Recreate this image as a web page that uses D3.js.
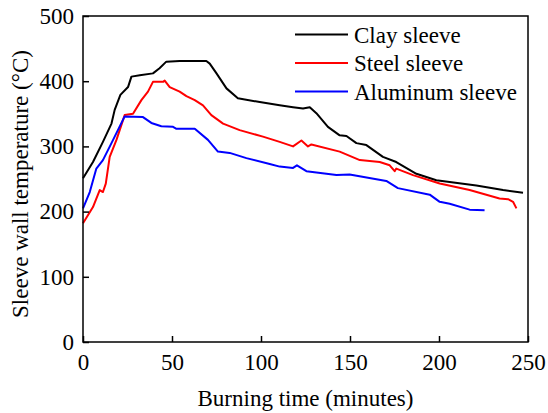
<!DOCTYPE html>
<html>
<head>
<meta charset="utf-8">
<script src="https://cdn.jsdelivr.net/npm/d3@7"></script>
<style>
  body { margin: 0; background: #fff; }
  text { font-family: "Liberation Serif", "Times New Roman", serif; }
</style>
</head>
<body>
<script>
(function(d3) {

  var width = 548, height = 413;
  var margin = {top: 16, right: 20, bottom: 71, left: 83};
  var fontSize = '23px';

  // Data (minutes, degC)
  var clayTime = [0, 5.6, 11.2, 16, 17.8, 21, 25.3, 27.2, 31.9, 39.3, 43, 46.8, 54.3, 69.3, 71.2, 75, 80.6, 87, 99.3, 110.5, 118, 123.6, 127.4, 131.1, 137.6, 144.2, 148, 153.6, 159.2, 168.5, 176, 187.3, 198.5, 221, 236, 247.2];
  var clayTemp = [251, 276, 307, 335, 356, 379, 391, 407, 409, 412, 420, 430, 431, 431, 427, 412, 389, 374, 368, 363, 360, 358, 360, 351, 330, 317, 316, 305, 302, 284, 276, 258, 248, 240, 233, 229];

  var steelTime = [0, 5.6, 9.4, 11.2, 12.8, 15, 18.8, 23.4, 28.1, 32.8, 36.5, 39.3, 45, 45.9, 48.7, 54.3, 58.1, 62.8, 67.4, 72.1, 78.7, 88, 101.1, 110.5, 118, 122.7, 126.4, 128.3, 144.2, 155.5, 166.7, 172.3, 175.1, 176, 185.4, 200.4, 217.2, 234, 238.8, 241.6, 243.5];
  var steelTemp = [182, 207, 233, 230, 243, 284, 310, 348, 350, 371, 384, 399, 399, 401, 391, 384, 377, 371, 363, 348, 335, 325, 315, 307, 300, 309, 300, 303, 292, 279, 276, 271, 262, 266, 256, 243, 233, 220, 219, 215, 205];

  var aluTime = [0, 3.8, 7.5, 11.2, 16, 17.8, 23.4, 33.7, 38.4, 44, 50.6, 52.5, 62.8, 70.2, 75.8, 82.4, 91.8, 104.9, 110.5, 118, 120.2, 125.5, 142.4, 149.8, 170.4, 176.9, 194.8, 200.4, 206, 217.2, 225.6];
  var aluTemp = [205, 230, 266, 279, 305, 315, 346, 345, 336, 331, 330, 327, 327, 310, 292, 290, 282, 273, 269, 267, 271, 262, 256, 257, 247, 236, 226, 215, 212, 203, 202];

  var seriesNames = ['Clay sleeve', 'Steel sleeve', 'Aluminum sleeve'];
  var colors = ['#000000', '#ff0000', '#0000ff'];

  var xTicks = [0, 50, 100, 150, 200, 250];
  var yTicks = [0, 100, 200, 300, 400, 500];

  var series = [
    d3.zip(clayTime, clayTemp),
    d3.zip(steelTime, steelTemp),
    d3.zip(aluTime, aluTemp)
  ];

  var svg = d3.select('body').append('svg')
    .attr('width', width)
    .attr('height', height);

  var x = d3.scaleLinear().domain([0, 250]).range([margin.left, width - margin.right]);
  var y = d3.scaleLinear().domain([0, 500]).range([height - margin.bottom, margin.top]);

  var line = d3.line()
    .x(function(d) { return x(d[0]); })
    .y(function(d) { return y(d[1]); });

  svg.selectAll('path.series')
    .data(series)
    .enter().append('path')
    .attr('class', 'series')
    .attr('d', line)
    .attr('fill', 'none')
    .attr('stroke', function(d, i) { return colors[i]; })
    .attr('stroke-width', 2)
    .attr('stroke-linejoin', 'round');

  // Frame
  svg.append('rect')
    .attr('x', x(0)).attr('y', y(500))
    .attr('width', x(250) - x(0)).attr('height', y(0) - y(500))
    .attr('fill', 'none').attr('stroke', '#000').attr('stroke-width', 1.5);

  // Axes: major ticks inward, minor ticks inward and shorter
  var xAxis = svg.append('g').attr('transform', 'translate(0,' + y(0) + ')');
  xAxis.call(d3.axisBottom(x).tickValues(d3.range(25, 250, 50)).tickSize(-3).tickFormat(''));
  xAxis.call(d3.axisBottom(x).tickValues(xTicks).tickSize(-6).tickPadding(12).tickFormat(d3.format('d')));

  var yAxis = svg.append('g').attr('transform', 'translate(' + x(0) + ',0)');
  yAxis.call(d3.axisLeft(y).tickValues(d3.range(50, 500, 100)).tickSize(-3).tickFormat(''));
  yAxis.call(d3.axisLeft(y).tickValues(yTicks).tickSize(-6).tickPadding(9).tickFormat(d3.format('d')));

  svg.selectAll('.domain').remove();
  svg.selectAll('.tick line').attr('stroke', '#000').attr('stroke-width', 1.5);
  svg.selectAll('.tick text')
    .attr('fill', '#000')
    .style('font-size', fontSize)
    .style('font-family', '"Liberation Serif", serif');

  // Axis titles
  svg.append('text')
    .attr('x', (x(0) + x(250)) / 2)
    .attr('y', 406)
    .attr('text-anchor', 'middle')
    .style('font-size', fontSize)
    .text('Burning time (minutes)');

  svg.append('text')
    .attr('transform', 'translate(28,184) rotate(-90)')
    .attr('text-anchor', 'middle')
    .style('font-size', fontSize)
    .text('Sleeve wall temperature (\u00B0C)');

  // Legend
  var legend = svg.selectAll('g.legend')
    .data(seriesNames)
    .enter().append('g')
    .attr('class', 'legend')
    .attr('transform', function(d, i) { return 'translate(295,' + (34.5 + i * 28.5) + ')'; });

  legend.append('line')
    .attr('x1', 0).attr('x2', 53)
    .attr('stroke', function(d, i) { return colors[i]; })
    .attr('stroke-width', 2);

  legend.append('text')
    .attr('x', 59)
    .attr('dy', '0.35em')
    .style('font-size', fontSize)
    .text(function(d) { return d; });

})(d3);
</script>
</body>
</html>
